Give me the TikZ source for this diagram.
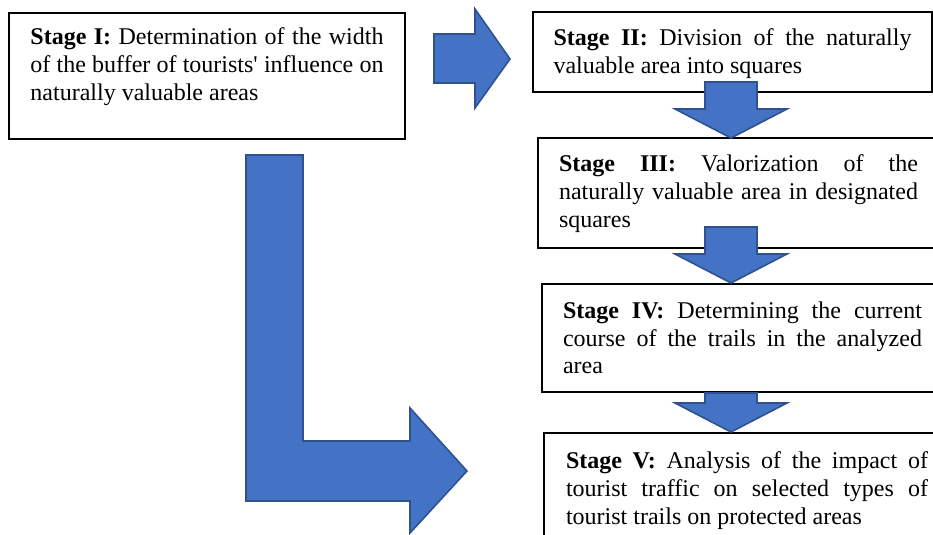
\documentclass[tikz,border=0pt]{standalone}
\usepackage{fontspec}
\setmainfont{Liberation Serif}
\definecolor{arrowfill}{HTML}{4472C4}
\definecolor{arrowline}{HTML}{2F528F}
\newcommand\stagefont{\fontsize{12}{14}\selectfont\hyphenpenalty=10000\relax}

\begin{document}
\begin{tikzpicture}[x=0.5pt, y=-0.5pt,
  stage/.style={draw, line width=1pt, anchor=north west, inner xsep=10.5pt, inner ysep=0pt,
    text width=179.5pt, align=justify, text height=17pt, font=\stagefont},
  blockarrow/.style={fill=arrowfill, draw=arrowline, line width=0.8pt, line join=miter}]
  \useasboundingbox (0,0) rectangle (933,535);
  \clip (0,0) rectangle (933,535);
  % stages
  \node[stage, text width=176.5pt, inner xsep=10.75pt, text height=16pt, text depth=47pt] (s1) at (8,12)
    {\textbf{Stage I:} Determination of the width\linebreak of the buffer of tourists\textquotesingle{} influence on\linebreak naturally valuable areas};
  \node[stage, text width=179pt, inner xsep=10.25pt, text depth=23pt] (s2) at (532,11)
    {\textbf{Stage II:} Division of the naturally\linebreak valuable area into squares};
  \node[stage, text depth=38pt] (s3) at (537,137)
    {\textbf{Stage III:} Valorization of the\linebreak naturally valuable area in designated\linebreak squares};
  \node[stage, text depth=37pt] (s4) at (541,283)
    {\textbf{Stage IV:} Determining the current\linebreak course of the trails in the analyzed\linebreak area};
  \node[stage, text width=181pt, inner xsep=11pt, text height=17.5pt, text depth=47pt] (s5) at (543,432)
    {\textbf{Stage V:} Analysis of the impact of\linebreak tourist traffic on selected types of\linebreak tourist trails on protected areas};
  % stage I to stage II
  \draw[blockarrow] (434,34) -- (475,34) -- (475,9) -- (510,59) -- (475,108) -- (475,83) -- (434,83) -- cycle;
  % down the column
  \foreach \t/\b in {82/138, 227/283, 393/432}
    \draw[blockarrow] (705,\t) -- (757,\t) -- (757,{\b-29}) -- (787,{\b-29}) -- (731,\b)
      -- (675,{\b-29}) -- (705,{\b-29}) -- cycle;
  % stage I to stage V
  \draw[blockarrow] (246,155) -- (303,155) -- (303,441) -- (410,441) -- (410,408) -- (467,471)
    -- (410,533) -- (410,501) -- (246,501) -- cycle;
\end{tikzpicture}
\end{document}
